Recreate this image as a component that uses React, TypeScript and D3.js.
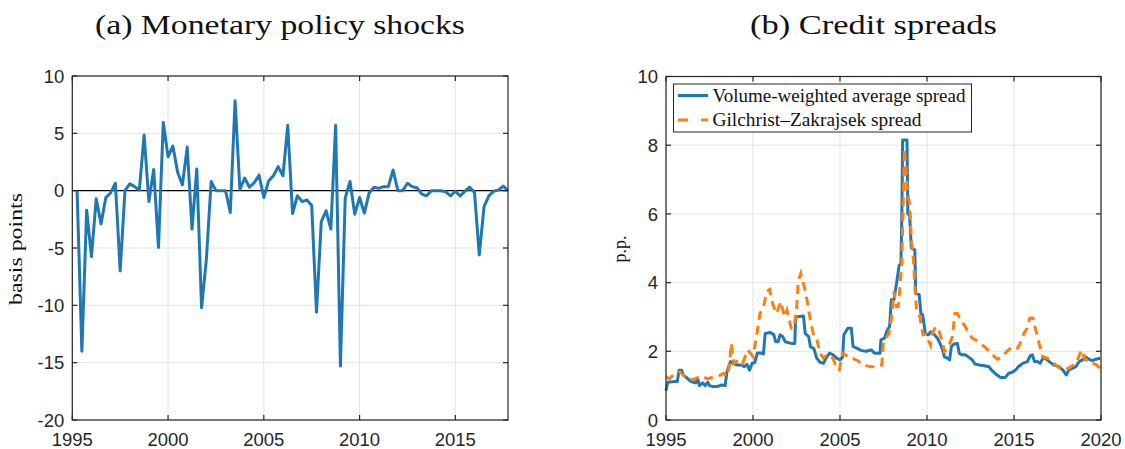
import React from "react";
import * as d3 from "d3";

// ---------- Data ----------
// (a) Monetary policy shocks, quarterly 1995Q1..2017Q3 (basis points)
const shockStart = 1995.25;
const shockValues: number[] = [
  0, -14.0, -1.7, -5.75, -0.7, -2.9, -0.6, -0.2, 0.65, -7.0,
  0, 0.6, 0.35, 0.05, 4.85, -0.95, 1.85, -4.95, 5.95, 2.95,
  3.9, 1.6, 0.5, 3.8, -3.35, 1.9, -10.2, -6.0, 0.8, 0,
  0, 0, -1.9, 7.85, 0.1, 1.1, 0.3, 0.7, 1.35, -0.6,
  0.85, 1.3, 2.1, 1.3, 5.7, -2.0, -0.45, -0.95, -0.8, -1.3,
  -10.6, -2.7, -1.75, -3.35, 5.7, -15.3, -0.65, 0.8, -2.05, -0.6,
  -1.95, -0.2, 0.3, 0.2, 0.35, 0.35, 1.8, 0, 0, 0.65,
  0.35, 0.25, -0.3, -0.45, 0, 0, 0, -0.1, -0.45, -0.05,
  -0.45, -0.05, 0.3, -0.15, -5.6, -1.4, -0.45, -0.05, 0.05, 0.4,
  0,
];
const shockYTicks = [-20, -15, -10, -5, 0, 5, 10];
const shockXTicks = [1995, 2000, 2005, 2010, 2015];

// (b) Credit spreads (p.p.): [date, value]
const vwSpread: [number, number][] = [
  [1995.0, 0.85], [1995.1, 1.1], [1995.5, 1.12], [1995.65, 1.12], [1995.75, 1.45], [1995.9, 1.45],
  [1996.0, 1.3], [1996.15, 1.25], [1996.4, 1.13], [1996.55, 1.1], [1996.7, 1.08], [1996.82, 1.2],
  [1996.92, 1.0], [1997.1, 1.08], [1997.25, 1.0], [1997.4, 1.1], [1997.5, 1.0], [1997.7, 0.97],
  [1998.0, 0.98], [1998.2, 1.02], [1998.4, 1.0], [1998.5, 1.4], [1998.7, 1.7], [1998.85, 1.65],
  [1999.1, 1.6], [1999.35, 1.6], [1999.5, 1.55], [1999.65, 1.62], [1999.8, 1.45], [1999.95, 1.65],
  [2000.1, 1.67], [2000.25, 1.95], [2000.45, 1.95], [2000.6, 1.92], [2000.7, 2.52], [2001.0, 2.55],
  [2001.2, 2.48], [2001.3, 2.28], [2001.45, 2.28], [2001.55, 2.48], [2001.7, 2.43], [2001.85, 2.28],
  [2002.2, 2.23], [2002.4, 2.23], [2002.45, 3.0], [2002.9, 3.03], [2003.0, 2.52], [2003.2, 2.43],
  [2003.3, 2.13], [2003.5, 2.08], [2003.66, 1.8], [2003.85, 1.68], [2004.05, 1.65], [2004.2, 1.8],
  [2004.4, 1.95], [2004.6, 1.9], [2004.8, 1.8], [2005.0, 1.75], [2005.15, 1.83], [2005.22, 2.48],
  [2005.45, 2.67], [2005.65, 2.67], [2005.75, 2.14], [2005.95, 2.09], [2006.25, 2.02], [2006.5, 2.0],
  [2006.8, 2.04], [2007.0, 1.94], [2007.3, 1.94], [2007.35, 2.33], [2007.55, 2.38], [2007.7, 2.6],
  [2007.85, 2.72], [2007.95, 3.5], [2008.1, 3.5], [2008.25, 3.98], [2008.4, 4.5], [2008.5, 4.55],
  [2008.55, 5.8], [2008.6, 8.15], [2008.85, 8.15], [2008.9, 6.0], [2009.0, 5.97], [2009.1, 5.0],
  [2009.3, 4.95], [2009.35, 3.69], [2009.55, 3.65], [2009.65, 3.1], [2009.75, 3.06], [2009.82, 2.82],
  [2009.9, 2.52], [2010.08, 2.48], [2010.2, 2.57], [2010.4, 2.5], [2010.6, 2.38], [2010.75, 2.23],
  [2010.9, 2.04], [2011.0, 1.84], [2011.17, 1.8], [2011.3, 1.75], [2011.4, 2.14], [2011.55, 2.21],
  [2011.75, 2.23], [2011.85, 1.94], [2012.0, 1.9], [2012.2, 1.9], [2012.4, 1.83], [2012.6, 1.75],
  [2012.76, 1.63], [2013.0, 1.6], [2013.3, 1.58], [2013.56, 1.55], [2013.7, 1.46], [2013.95, 1.34],
  [2014.23, 1.24], [2014.5, 1.24], [2014.7, 1.36], [2014.9, 1.39], [2015.1, 1.46], [2015.25, 1.55],
  [2015.5, 1.65], [2015.77, 1.7], [2015.92, 1.86], [2016.05, 1.9], [2016.18, 1.7], [2016.34, 1.7],
  [2016.5, 1.65], [2016.7, 1.83], [2016.9, 1.75], [2017.1, 1.67], [2017.3, 1.6], [2017.6, 1.55],
  [2017.8, 1.46], [2018.0, 1.31], [2018.15, 1.46], [2018.35, 1.5], [2018.55, 1.55], [2018.74, 1.7],
  [2018.93, 1.75], [2019.1, 1.84], [2019.3, 1.77], [2019.5, 1.73], [2019.7, 1.77], [2019.95, 1.8],
];
const gzSpread: [number, number][] = [
  [1995.0, 1.26], [1995.2, 1.2], [1995.4, 1.3], [1995.8, 1.4], [1996.2, 1.2], [1996.6, 1.18],
  [1997.0, 1.28], [1997.4, 1.2], [1997.8, 1.26], [1998.1, 1.3], [1998.3, 1.36], [1998.5, 1.26],
  [1998.65, 1.6], [1998.75, 2.23], [1998.9, 1.65], [1999.2, 1.75], [1999.4, 1.65], [1999.7, 2.04],
  [2000.0, 1.85], [2000.2, 2.43], [2000.4, 3.1], [2000.6, 3.3], [2000.8, 3.74], [2000.95, 3.8],
  [2001.15, 3.35], [2001.35, 3.1], [2001.6, 3.45], [2001.8, 3.0], [2001.95, 3.2], [2002.2, 2.67],
  [2002.35, 2.67], [2002.5, 3.2], [2002.6, 4.03], [2002.75, 4.27], [2002.95, 3.88], [2003.1, 3.5],
  [2003.3, 2.9], [2003.5, 2.43], [2003.65, 2.38], [2003.85, 1.94], [2004.05, 1.8], [2004.25, 1.9],
  [2004.45, 1.85], [2004.6, 1.8], [2004.8, 1.5], [2004.96, 1.46], [2005.15, 1.95], [2005.3, 1.9],
  [2005.55, 1.8], [2005.7, 1.8], [2006.05, 1.72], [2006.3, 1.6], [2006.8, 1.55], [2007.1, 1.55],
  [2007.4, 1.6], [2007.5, 2.3], [2007.8, 2.5], [2008.0, 3.1], [2008.1, 3.74], [2008.25, 3.3],
  [2008.35, 3.3], [2008.45, 3.9], [2008.55, 4.56], [2008.62, 6.0], [2008.7, 7.9], [2008.8, 7.3],
  [2008.88, 6.6], [2009.0, 6.3], [2009.1, 5.3], [2009.22, 4.66], [2009.3, 3.9], [2009.4, 3.2],
  [2009.55, 3.1], [2009.77, 2.48], [2009.92, 2.5], [2010.2, 2.18], [2010.3, 2.52], [2010.5, 2.72],
  [2010.68, 2.6], [2010.88, 2.28], [2011.0, 2.0], [2011.2, 2.1], [2011.46, 2.43], [2011.6, 3.1],
  [2011.75, 3.1], [2011.93, 2.91], [2012.2, 2.72], [2012.4, 2.52], [2012.6, 2.38], [2012.8, 2.33],
  [2013.28, 2.14], [2013.5, 2.04], [2013.75, 1.9], [2014.04, 1.77], [2014.3, 1.83], [2014.6, 2.0],
  [2014.9, 2.14], [2015.2, 2.09], [2015.4, 2.28], [2015.57, 2.52], [2015.75, 2.67], [2015.9, 2.96],
  [2016.1, 2.96], [2016.25, 2.62], [2016.44, 2.23], [2016.65, 1.84], [2016.92, 1.8], [2017.1, 1.73],
  [2017.4, 1.6], [2017.7, 1.48], [2017.97, 1.46], [2018.26, 1.55], [2018.55, 1.65], [2018.8, 1.94],
  [2018.9, 2.04], [2019.1, 1.75], [2019.3, 1.75], [2019.5, 1.65], [2019.7, 1.62], [2019.95, 1.5],
];
const spreadYTicks = [0, 2, 4, 6, 8, 10];
const spreadXTicks = [1995, 2000, 2005, 2010, 2015, 2020];
const legendLabels = ["Volume-weighted average spread", "Gilchrist\u2013Zakrajsek spread"];

// ---------- Style ----------
const BLUE = "#1f77b4";
const ORANGE = "#ff7f0e";
const AXIS = "#262626";
const GRID = "#e3e3e3";
const TICK_FONT = "'Liberation Sans', Arial, sans-serif";
const SERIF = "'Liberation Serif', 'Times New Roman', serif";

type PanelProps = {
  x: d3.ScaleLinear<number, number>;
  y: d3.ScaleLinear<number, number>;
  xTicks: number[];
  yTicks: number[];
  children?: React.ReactNode;
};

function Frame({ x, y, xTicks, yTicks, children }: PanelProps) {
  const [x0, x1] = x.range();
  const [y0, y1] = y.range(); // y0 bottom, y1 top
  const tl = 5;
  return (
    <g>
      {xTicks.map((t) => (
        <line key={"gx" + t} x1={x(t)} x2={x(t)} y1={y0} y2={y1} stroke={GRID} strokeWidth={1} />
      ))}
      {yTicks.map((t) => (
        <line key={"gy" + t} x1={x0} x2={x1} y1={y(t)} y2={y(t)} stroke={GRID} strokeWidth={1} />
      ))}
      {children}
      <rect x={x0} y={y1} width={x1 - x0} height={y0 - y1} fill="none" stroke={AXIS} strokeWidth={1.2} />
      {xTicks.map((t) => (
        <g key={"tx" + t}>
          <line x1={x(t)} x2={x(t)} y1={y0} y2={y0 - tl} stroke={AXIS} strokeWidth={1.2} />
          <line x1={x(t)} x2={x(t)} y1={y1} y2={y1 + tl} stroke={AXIS} strokeWidth={1.2} />
          <text x={x(t)} y={446} textAnchor="middle" fontFamily={TICK_FONT} fontSize={18.5} fill={AXIS}>
            {t}
          </text>
        </g>
      ))}
      {yTicks.map((t) => (
        <g key={"ty" + t}>
          <line x1={x0} x2={x0 + tl} y1={y(t)} y2={y(t)} stroke={AXIS} strokeWidth={1.2} />
          <line x1={x1} x2={x1 - tl} y1={y(t)} y2={y(t)} stroke={AXIS} strokeWidth={1.2} />
          <text x={x0 - 8} y={y(t)} dy="0.36em" textAnchor="end" fontFamily={TICK_FONT} fontSize={18.5} fill={AXIS}>
            {t}
          </text>
        </g>
      ))}
    </g>
  );
}

export default function App() {
  // Panel (a)
  const xa = d3.scaleLinear().domain([1995, 2017.75]).range([72.3, 508]);
  const ya = d3.scaleLinear().domain([-20, 10]).range([420, 76]);
  const shockPts: [number, number][] = shockValues.map((v, i) => [shockStart + i / 4, v]);
  const lineA = d3
    .line<[number, number]>()
    .x((d) => xa(d[0]))
    .y((d) => ya(d[1]));

  // Panel (b)
  const xb = d3.scaleLinear().domain([1995, 2020]).range([666, 1101]);
  const yb = d3.scaleLinear().domain([0, 10]).range([420, 76.5]);
  const lineB = d3
    .line<[number, number]>()
    .x((d) => xb(d[0]))
    .y((d) => yb(d[1]));

  return (
    <svg
      width={1125}
      height={449}
      style={{ position: "absolute", left: 0, top: 0, background: "#fff" }}
    >
      <rect width={1125} height={449} fill="#fff" />
      {/* Titles */}
      <text x={95} y={34} fontFamily={SERIF} fontSize={27} fill="#111" textLength={370} lengthAdjust="spacingAndGlyphs">
        (a) Monetary policy shocks
      </text>
      <text x={750} y={34} fontFamily={SERIF} fontSize={27} fill="#111" textLength={247} lengthAdjust="spacingAndGlyphs">
        (b) Credit spreads
      </text>

      {/* Panel (a) */}
      <Frame x={xa} y={ya} xTicks={shockXTicks} yTicks={shockYTicks}>
        <line x1={xa(1995)} x2={xa(2017.75)} y1={ya(0)} y2={ya(0)} stroke="#000" strokeWidth={1.3} />
        <path d={lineA(shockPts) || ""} fill="none" stroke={BLUE} strokeWidth={3} strokeLinejoin="round" />
      </Frame>
      <text
        transform={`translate(22,249) rotate(-90)`}
        textAnchor="middle"
        fontFamily={SERIF}
        fontSize={18}
        fill="#111"
        textLength={112}
        lengthAdjust="spacingAndGlyphs"
      >
        basis points
      </text>

      {/* Panel (b) */}
      <Frame x={xb} y={yb} xTicks={spreadXTicks} yTicks={spreadYTicks}>
        <path d={lineB(vwSpread) || ""} fill="none" stroke={BLUE} strokeWidth={3} strokeLinejoin="round" />
        <path
          d={lineB(gzSpread) || ""}
          fill="none"
          stroke={ORANGE}
          strokeWidth={3}
          strokeDasharray="9,6"
        />
      </Frame>
      <text
        transform={`translate(626,249) rotate(-90)`}
        textAnchor="middle"
        fontFamily={SERIF}
        fontSize={18}
        fill="#111"
      >
        p.p.
      </text>

      {/* Legend */}
      <g>
        <rect x={673.5} y={84} width={298} height={48} fill="#fff" stroke={AXIS} strokeWidth={1} />
        <line x1={678} x2={708} y1={95.5} y2={95.5} stroke={BLUE} strokeWidth={3} />
        <line x1={678} x2={708} y1={120} y2={120} stroke={ORANGE} strokeWidth={3} strokeDasharray="10,13" />
        <text x={712.5} y={101.5} fontFamily={SERIF} fontSize={18} fill="#111" textLength={253} lengthAdjust="spacingAndGlyphs">
          {legendLabels[0]}
        </text>
        <text x={712.5} y={125.5} fontFamily={SERIF} fontSize={18} fill="#111" textLength={209} lengthAdjust="spacingAndGlyphs">
          {legendLabels[1]}
        </text>
      </g>
    </svg>
  );
}
